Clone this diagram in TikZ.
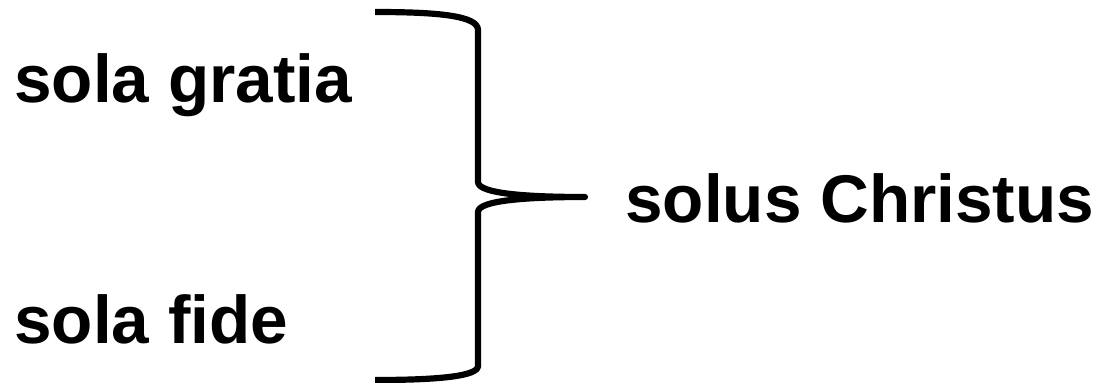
\documentclass[tikz,border=0pt]{standalone}
\usepackage{fontspec}
\setmainfont{Liberation Sans}

\begin{document}
\begin{tikzpicture}[x=0.025cm, y=0.025cm,
    word/.style={anchor=base west, inner sep=0pt, font=\fontsize{48}{58}\selectfont\bfseries},
    brace/.style={line width=4.4pt, line join=round}]
    \useasboundingbox (0,0) rectangle (1095,382);
    % Labels
    \node[word] (gratia) at (14,279) {sola gratia};
    \node[word] (fide) at (14,39) {sola fide};
    \node[word] (christus) at (625,160) {solus Christus};

    % Brace
    \coordinate (top) at (375,370);
    \coordinate (tip) at (585,185);
    \coordinate (bottom) at (375,2);
    \draw[brace] (top) .. controls (440,370) and (478,366) .. (478,352)
        -- (478,200) .. controls (478,188) and (530,185) .. (tip)
        .. controls (530,185) and (478,182) .. (478,170)
        -- (478,16) .. controls (478,6) and (440,2) .. (bottom);
\end{tikzpicture}
\end{document}
